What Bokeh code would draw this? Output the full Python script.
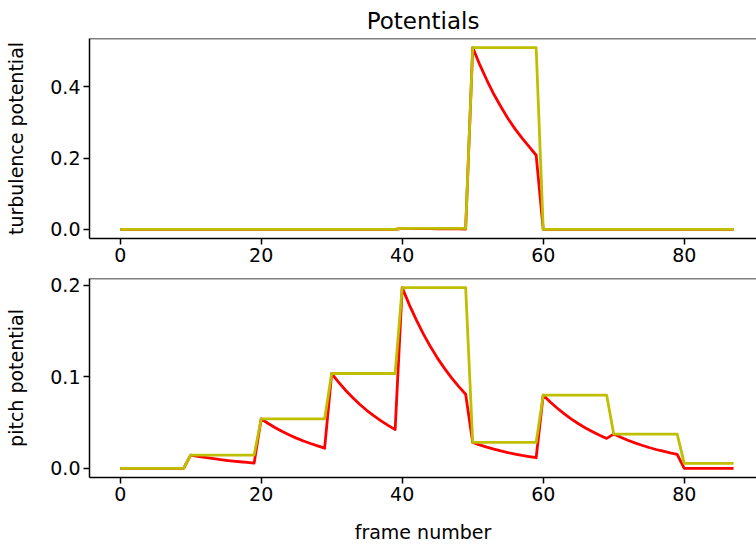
from bokeh.plotting import figure
from bokeh.layouts import column
from bokeh.models import Range1d, FixedTicker, Span, CustomJSTickFormatter
from bokeh.embed import file_html
from bokeh.resources import INLINE

frames = list(range(88))

turb_decay = [0.0] * 40 + [
    0.003, 0.0027, 0.0025, 0.0022, 0.002, 0.0018, 0.0017, 0.0015, 0.0014, 0.0012,
    0.510, 0.462, 0.419, 0.379, 0.344, 0.311, 0.282, 0.256, 0.232, 0.208,
] + [0.0] * 28

turb_hold = [0.0] * 40 + [
    0.003, 0.003, 0.003, 0.003, 0.003, 0.003, 0.003, 0.003, 0.003, 0.003,
    0.510, 0.510, 0.510, 0.510, 0.510, 0.510, 0.510, 0.510, 0.510, 0.510,
] + [0.0] * 28

pitch_decay = [
    0.0, 0.0, 0.0, 0.0, 0.0, 0.0, 0.0, 0.0, 0.0, 0.0,
    0.0146, 0.0132, 0.0120, 0.0109, 0.0098, 0.0089, 0.0081, 0.0073, 0.0066, 0.0058,
    0.0542, 0.0491, 0.0445, 0.0403, 0.0365, 0.0331, 0.0300, 0.0272, 0.0246, 0.0221,
    0.1036, 0.0939, 0.0851, 0.0771, 0.0698, 0.0632, 0.0573, 0.0519, 0.0470, 0.0424,
    0.1974, 0.1788, 0.1621, 0.1469, 0.1330, 0.1204, 0.1092, 0.0989, 0.0896, 0.0810,
    0.0284, 0.0257, 0.0233, 0.0211, 0.0191, 0.0173, 0.0157, 0.0142, 0.0129, 0.0117,
    0.0800, 0.0725, 0.0657, 0.0595, 0.0539, 0.0488, 0.0442, 0.0401, 0.0363, 0.0328,
    0.0375, 0.0340, 0.0308, 0.0279, 0.0253, 0.0229, 0.0207, 0.0188, 0.0170, 0.0154,
    0.0, 0.0, 0.0, 0.0, 0.0, 0.0, 0.0, 0.0,
]

pitch_hold = [
    0.0, 0.0, 0.0, 0.0, 0.0, 0.0, 0.0, 0.0, 0.0, 0.0,
    0.0146, 0.0146, 0.0146, 0.0146, 0.0146, 0.0146, 0.0146, 0.0146, 0.0146, 0.0146,
    0.0542, 0.0542, 0.0542, 0.0542, 0.0542, 0.0542, 0.0542, 0.0542, 0.0542, 0.0542,
    0.1036, 0.1036, 0.1036, 0.1036, 0.1036, 0.1036, 0.1036, 0.1036, 0.1036, 0.1036,
    0.1974, 0.1974, 0.1974, 0.1974, 0.1974, 0.1974, 0.1974, 0.1974, 0.1974, 0.1974,
    0.0284, 0.0284, 0.0284, 0.0284, 0.0284, 0.0284, 0.0284, 0.0284, 0.0284, 0.0284,
    0.0800, 0.0800, 0.0800, 0.0800, 0.0800, 0.0800, 0.0800, 0.0800, 0.0800, 0.0800,
    0.0375, 0.0375, 0.0375, 0.0375, 0.0375, 0.0375, 0.0375, 0.0375, 0.0375, 0.0375,
    0.0055, 0.0055, 0.0055, 0.0055, 0.0055, 0.0055, 0.0055, 0.0055,
]

x_ticks = [0, 20, 40, 60, 80]
turb_ticks = [0.0, 0.2, 0.4]
pitch_ticks = [0.0, 0.1, 0.2]

FONT = "DejaVu Sans"
RED = "#ff0000"
YEL = "#bfbf00"


def make_fig(y_lo, y_hi, yticks, ylabel, top, bottom, fh):
    p = figure(width=756, height=top + fh + bottom,
               output_backend="svg", toolbar_location=None,
               x_range=Range1d(-4.35, 90.25), y_range=Range1d(y_lo, y_hi),
               min_border_left=89, min_border_right=0,
               min_border_top=top, min_border_bottom=bottom)
    p.frame_width = 667
    p.frame_height = fh
    p.outline_line_color = None
    p.grid.visible = False
    p.background_fill_color = "white"
    p.border_fill_color = "white"
    p.xaxis.ticker = FixedTicker(ticks=x_ticks)
    p.yaxis.ticker = FixedTicker(ticks=yticks)
    p.yaxis.formatter = CustomJSTickFormatter(code="return tick.toFixed(1);")
    for ax in (p.xaxis[0], p.yaxis[0]):
        ax.axis_line_color = "black"
        ax.axis_line_width = 1.5
        ax.major_tick_line_color = "black"
        ax.major_tick_line_width = 1.5
        ax.major_tick_in = 0
        ax.major_tick_out = 6
        ax.minor_tick_line_color = None
        ax.major_label_text_font = FONT
        ax.major_label_text_font_size = "19px"
        ax.major_label_text_color = "black"
        ax.axis_label_text_font = FONT
        ax.axis_label_text_font_size = "19px"
        ax.axis_label_text_font_style = "normal"
        ax.axis_label_text_color = "black"
    p.yaxis.major_label_standoff = 3
    p.yaxis.axis_label = ylabel
    p.yaxis.axis_label_standoff = 20
    p.xaxis.major_label_standoff = 3
    p.add_layout(Span(location=y_hi, dimension="width",
                      line_color="black", line_width=1.5))
    return p


p1 = make_fig(-0.0255, 0.5355, turb_ticks, "turbulence potential", 37, 30, 200)
p1.title.text = "Potentials"
p1.title.align = "center"
p1.title.text_font = FONT
p1.title.text_font_size = "23px"
p1.title.text_font_style = "normal"
p1.title.text_color = "black"
p1.line(frames, turb_decay, line_color=RED, line_width=2.8, line_join="round")
p1.line(frames, turb_hold, line_color=YEL, line_width=2.8, line_join="round")

p2 = make_fig(-0.00987, 0.2073, pitch_ticks, "pitch potential", 10, 70, 199)
p2.xaxis.axis_label = "frame number"
p2.xaxis.axis_label_standoff = 17
p2.line(frames, pitch_decay, line_color=RED, line_width=2.8, line_join="round")
p2.line(frames, pitch_hold, line_color=YEL, line_width=2.8, line_join="round")

layout = column(p1, p2, spacing=0)
open("out.html", "w").write(file_html(layout, INLINE))
